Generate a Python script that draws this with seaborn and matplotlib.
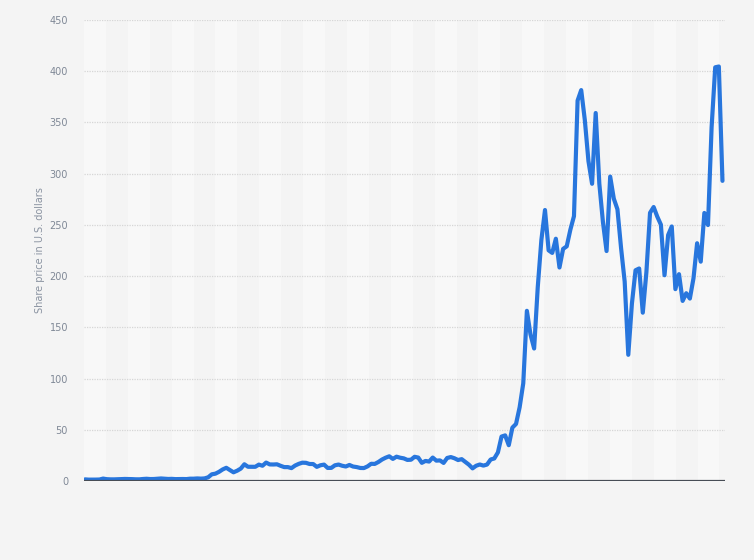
import numpy as np
import pandas as pd
import matplotlib
matplotlib.use("Agg")
import matplotlib.pyplot as plt
import seaborn as sns

# monthly closing share price in U.S. dollars (split adjusted), Jun 2010 - Feb 2025
price_2010 = [1.59, 1.33, 1.30, 1.36, 1.46, 2.36, 1.78]
price_2011 = [1.61, 1.59, 1.77, 1.85, 2.00, 1.94, 1.83, 1.65, 1.63, 1.96, 2.18, 1.90]
price_2012 = [1.94, 2.25, 2.48, 2.21, 1.98, 2.09, 1.84, 1.92, 1.95, 1.87, 2.26, 2.26]
price_2013 = [2.50, 2.32, 2.53, 3.60, 6.52, 7.16, 8.95, 11.27, 12.89, 10.66, 8.49, 10.03]
price_2014 = [12.09, 16.32, 13.90, 13.86, 13.85, 16.00, 14.89, 17.98, 16.18, 16.11, 16.30, 14.83]
price_2015 = [13.57, 13.56, 12.58, 15.07, 16.72, 17.88, 17.74, 16.60, 16.56, 13.80, 15.35, 16.00]
price_2016 = [12.75, 12.80, 15.32, 16.05, 14.88, 14.15, 15.65, 14.13, 13.60, 12.72, 12.63, 14.25]
price_2017 = [16.80, 16.67, 18.55, 20.94, 22.73, 24.11, 21.56, 23.73, 22.74, 22.10, 20.59, 20.76]
price_2018 = [23.62, 22.87, 17.74, 19.59, 18.98, 22.86, 19.88, 20.11, 17.65, 22.49, 23.37, 22.19]
price_2019 = [20.47, 21.33, 18.66, 15.91, 12.34, 14.90, 16.11, 15.04, 16.06, 20.99, 22.00, 27.89]
price_2020 = [43.37, 44.53, 34.93, 52.13, 55.67, 71.99, 95.38, 166.11, 143.00, 129.35, 189.20, 235.22]
price_2021 = [264.51, 225.17, 222.64, 236.48, 208.41, 226.57, 229.07, 245.24, 258.49, 371.33, 381.59, 352.26]
price_2022 = [312.24, 290.14, 359.20, 290.25, 252.75, 224.47, 297.15, 275.61, 265.25, 227.54, 194.70, 123.18]
price_2023 = [173.22, 205.71, 207.46, 164.31, 203.93, 261.77, 267.43, 258.08, 250.22, 200.84, 240.08, 248.48]
price_2024 = [187.29, 201.88, 175.79, 183.28, 178.08, 197.88, 232.07, 214.11, 261.63, 249.85, 345.16, 403.84]
price_2025 = [404.60, 292.98]

prices = (price_2010 + price_2011 + price_2012 + price_2013 + price_2014 + price_2015
          + price_2016 + price_2017 + price_2018 + price_2019 + price_2020 + price_2021
          + price_2022 + price_2023 + price_2024 + price_2025)
months = pd.date_range("2010-06-01", periods=len(prices), freq="MS")
y_ticks = [0, 50, 100, 150, 200, 250, 300, 350, 400, 450]

df = pd.DataFrame({"month": months, "idx": np.arange(len(prices)), "price": prices})

bg = "#f4f4f4"
sns.set_style("white")
plt.rcParams["font.family"] = ["DejaVu Sans"]

fig = plt.figure(figsize=(7.54, 5.6), dpi=100, facecolor=bg)
ax = fig.add_axes([84 / 754, 1 - 481 / 560, 641 / 754, 461 / 560])
ax.set_facecolor(bg)

# alternating light bands, half a year wide
n = len(prices)
x_left, x_right = -0.28, n - 1 + 0.7
band = 6.05
start = x_left
while start < x_right:
    ax.axvspan(start, min(start + band, x_right), color="#f8f8f8", lw=0, zorder=0)
    start += 2 * band

# dotted horizontal grid
for t in y_ticks[1:]:
    ax.axhline(t, color="#d6d6d6", lw=0.9, ls=(0, (1, 1)), zorder=1)

sns.lineplot(data=df, x="idx", y="price", color="#2876dd", linewidth=3,
             ax=ax, zorder=3, solid_capstyle="round", solid_joinstyle="round")

ax.axhline(0, color="#474d55", lw=1.6, zorder=4)

ax.set_xlim(x_left, x_right)
ax.set_ylim(0, 450)
ax.set_yticks(y_ticks)
ax.set_yticklabels([str(t) for t in y_ticks], fontsize=7, color="#7f8896")
ax.set_xticks([])
ax.tick_params(axis="y", length=0, pad=11.5)
ax.set_xlabel("")
ax.set_ylabel("Share price in U.S. dollars", fontsize=7, color="#8a93a1", labelpad=3)
for s in ax.spines.values():
    s.set_visible(False)

fig.savefig("out.png", dpi=100, facecolor=bg)
